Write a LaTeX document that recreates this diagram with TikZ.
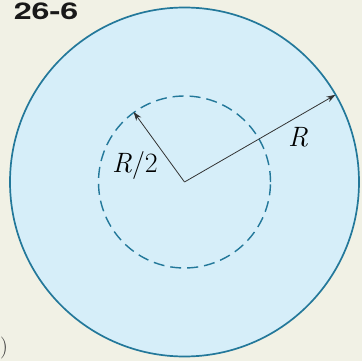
\documentclass[tikz,border=0pt]{standalone}
\usepackage{fontspec}
\newfontfamily\figfont{TeX Gyre Heros}
\usetikzlibrary{positioning, arrows.meta}
\definecolor{paper}{HTML}{F1F1E5}
\definecolor{diskfill}{HTML}{D6EEF9}
\definecolor{rim}{HTML}{23789A}
\definecolor{ink}{HTML}{333333}

\begin{document}
\begin{tikzpicture}[x=1pt, y=-1pt, font=\fontsize{28}{32}\selectfont,
    radline/.style={draw=ink, line width=0.8pt, -{Stealth[length=9pt, width=6pt]}}]
    \fill[paper] (0,0) rectangle (362,361);
    \useasboundingbox (0,0) rectangle (362,361);
    \coordinate (o) at (184.5,182);
    \node[circle, draw=rim, line width=1.7pt, fill=diskfill, inner sep=0pt, minimum size=349pt] (outer) at (o) {};
    \node[circle, draw=rim, line width=1.4pt, dash pattern=on 11pt off 6pt, inner sep=0pt, minimum size=172pt] (inner) at (o) {};
    \draw[radline, shorten >=1pt] (o) -- (outer.30);
    \draw[radline] (o) -- (inner.126);
    \node (lR) at (298,137) {\itshape R};
    \node (lhalf) at (135,165) {{\itshape R}/2};
    \node[font=\figfont\bfseries\fontsize{23}{26}\selectfont, text=black!90] (fig) at (46,11) {\scalebox{1.4}[1]{26-6}};
    \node[font=\fontsize{22}{26}\selectfont, text=ink, inner sep=0pt] (par) at (4,348) {)};
\end{tikzpicture}
\end{document}
